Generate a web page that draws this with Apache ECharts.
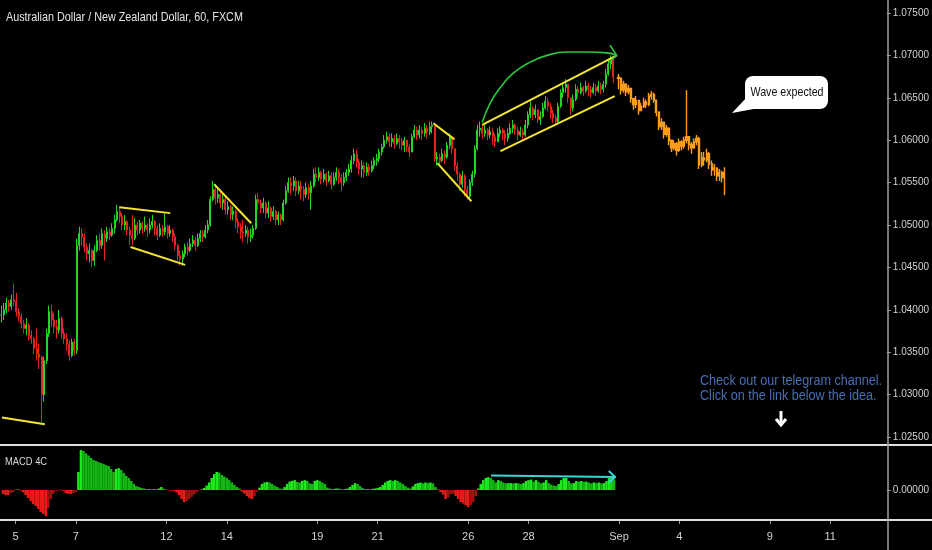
<!DOCTYPE html>
<html><head><meta charset="utf-8">
<script src="https://cdn.jsdelivr.net/npm/echarts@6/dist/echarts.min.js"></script>
<style>html,body{margin:0;padding:0;background:#000;}#c{width:932px;height:550px;}</style>
</head><body><div id="c"></div>
<script>
// ---- data (2-hour slots; slot 5 = Aug 5 00:00) ----
const closes=[
1.0394,1.0400,1.0408,1.0404,1.0412,1.0410,1.0398,1.0392,1.0384,1.0378,
1.0382,1.0370,1.0366,1.0354,1.0348,1.0344,1.0300,1.0340,1.0372,1.0398,
1.0388,1.0380,1.0376,1.0390,1.0372,1.0366,1.0360,1.0346,1.0362,1.0352,
1.0476,1.0490,1.0486,1.0474,1.0466,1.0470,1.0458,1.0470,1.0482,1.0476,
1.0490,1.0484,1.0492,1.0488,1.0496,1.0506,1.0516,1.0510,1.0500,1.0504,
1.0494,1.0488,1.0484,1.0500,1.0494,1.0502,1.0496,1.0500,1.0494,1.0500,
1.0504,1.0496,1.0488,1.0496,1.0492,1.0498,1.0490,1.0494,1.0486,1.0476,
1.0464,1.0460,1.0466,1.0474,1.0470,1.0478,1.0482,1.0476,1.0484,1.0490,
1.0486,1.0494,1.0500,1.0530,1.0542,1.0532,1.0536,1.0526,1.0530,1.0518,
1.0522,1.0512,1.0516,1.0504,1.0498,1.0492,1.0490,1.0494,1.0486,1.0488,
1.0496,1.0530,1.0526,1.0520,1.0526,1.0514,1.0520,1.0510,1.0516,1.0506,
1.0512,1.0506,1.0526,1.0540,1.0550,1.0546,1.0552,1.0540,1.0546,1.0542,
1.0536,1.0544,1.0538,1.0546,1.0560,1.0556,1.0562,1.0554,1.0560,1.0552,
1.0558,1.0548,1.0556,1.0562,1.0556,1.0550,1.0556,1.0562,1.0566,1.0576,
1.0584,1.0574,1.0566,1.0570,1.0562,1.0568,1.0564,1.0570,1.0576,1.0578,
1.0586,1.0592,1.0600,1.0604,1.0598,1.0602,1.0596,1.0602,1.0598,1.0594,
1.0600,1.0592,1.0586,1.0604,1.0612,1.0606,1.0612,1.0608,1.0614,1.0610,
1.0616,1.0618,1.0578,1.0580,1.0576,1.0584,1.0580,1.0594,1.0604,1.0590,
1.0570,1.0560,1.0548,1.0558,1.0542,1.0534,1.0550,1.0560,1.0590,1.0612,
1.0614,1.0608,1.0612,1.0606,1.0610,1.0604,1.0598,1.0608,1.0612,1.0608,
1.0602,1.0608,1.0614,1.0618,1.0612,1.0606,1.0610,1.0606,1.0618,1.0630,
1.0638,1.0630,1.0636,1.0624,1.0628,1.0638,1.0646,1.0640,1.0632,1.0626,
1.0622,1.0640,1.0656,1.0662,1.0666,1.0650,1.0638,1.0648,1.0660,1.0656,
1.0662,1.0658,1.0664,1.0660,1.0656,1.0662,1.0658,1.0664,1.0660,1.0666,
1.0678,1.0690,1.0694,1.0674];
const highs=[
1.0405,1.0408,1.0414,1.0412,1.0418,1.0431,1.0420,1.0402,1.0396,1.0388,
1.0390,1.0384,1.0376,1.0368,1.0378,1.0360,1.0346,1.0345,1.0378,1.0405,
1.0406,1.0396,1.0388,1.0400,1.0392,1.0378,1.0372,1.0364,1.0366,1.0366,
1.0484,1.0498,1.0496,1.0490,1.0478,1.0478,1.0472,1.0476,1.0488,1.0490,
1.0496,1.0494,1.0498,1.0496,1.0502,1.0512,1.0524,1.0522,1.0514,1.0512,
1.0506,1.0498,1.0512,1.0508,1.0504,1.0506,1.0504,1.0510,1.0502,1.0508,
1.0512,1.0506,1.0500,1.0502,1.0500,1.0514,1.0500,1.0500,1.0496,1.0490,
1.0478,1.0470,1.0470,1.0478,1.0480,1.0484,1.0488,1.0486,1.0490,1.0494,
1.0494,1.0500,1.0506,1.0534,1.0552,1.0546,1.0542,1.0538,1.0536,1.0532,
1.0528,1.0524,1.0522,1.0518,1.0508,1.0502,1.0506,1.0500,1.0498,1.0496,
1.0500,1.0536,1.0538,1.0530,1.0532,1.0528,1.0528,1.0522,1.0522,1.0518,
1.0516,1.0514,1.0530,1.0546,1.0556,1.0556,1.0558,1.0556,1.0552,1.0552,
1.0546,1.0550,1.0548,1.0552,1.0566,1.0568,1.0568,1.0564,1.0566,1.0562,
1.0564,1.0562,1.0562,1.0568,1.0566,1.0560,1.0562,1.0566,1.0572,1.0582,
1.0590,1.0588,1.0578,1.0576,1.0574,1.0574,1.0572,1.0576,1.0580,1.0584,
1.0590,1.0596,1.0606,1.0610,1.0608,1.0608,1.0606,1.0608,1.0606,1.0602,
1.0604,1.0598,1.0596,1.0608,1.0618,1.0616,1.0618,1.0616,1.0620,1.0618,
1.0622,1.0622,1.0620,1.0586,1.0584,1.0590,1.0588,1.0598,1.0608,1.0604,
1.0590,1.0574,1.0562,1.0564,1.0560,1.0546,1.0554,1.0564,1.0594,1.0618,
1.0622,1.0618,1.0618,1.0614,1.0616,1.0614,1.0608,1.0614,1.0616,1.0614,
1.0612,1.0614,1.0620,1.0624,1.0620,1.0616,1.0616,1.0614,1.0624,1.0634,
1.0646,1.0640,1.0642,1.0636,1.0634,1.0644,1.0652,1.0650,1.0644,1.0636,
1.0630,1.0644,1.0660,1.0668,1.0672,1.0666,1.0650,1.0654,1.0666,1.0664,
1.0668,1.0664,1.0670,1.0668,1.0664,1.0668,1.0666,1.0670,1.0668,1.0670,
1.0684,1.0696,1.0700,1.0698];
const lows=[
1.0385,1.0388,1.0396,1.0398,1.0400,1.0404,1.0392,1.0386,1.0378,1.0372,
1.0370,1.0364,1.0360,1.0348,1.0340,1.0330,1.0267,1.0292,1.0336,1.0368,
1.0380,1.0372,1.0366,1.0372,1.0366,1.0360,1.0352,1.0340,1.0344,1.0346,
1.0348,1.0470,1.0476,1.0468,1.0458,1.0456,1.0450,1.0452,1.0468,1.0470,
1.0472,1.0458,1.0480,1.0482,1.0486,1.0490,1.0504,1.0502,1.0494,1.0494,
1.0488,1.0476,1.0476,1.0482,1.0488,1.0490,1.0490,1.0492,1.0486,1.0490,
1.0496,1.0488,1.0482,1.0486,1.0486,1.0488,1.0484,1.0486,1.0480,1.0470,
1.0458,1.0452,1.0452,1.0462,1.0464,1.0468,1.0474,1.0470,1.0474,1.0480,
1.0480,1.0484,1.0490,1.0498,1.0528,1.0524,1.0526,1.0520,1.0518,1.0512,
1.0512,1.0506,1.0506,1.0496,1.0490,1.0484,1.0480,1.0486,1.0478,1.0480,
1.0484,1.0494,1.0518,1.0514,1.0514,1.0508,1.0508,1.0504,1.0506,1.0500,
1.0500,1.0500,1.0504,1.0524,1.0538,1.0536,1.0540,1.0534,1.0536,1.0530,
1.0528,1.0532,1.0530,1.0518,1.0544,1.0550,1.0552,1.0548,1.0550,1.0546,
1.0550,1.0542,1.0546,1.0552,1.0548,1.0540,1.0546,1.0552,1.0558,1.0562,
1.0572,1.0568,1.0560,1.0556,1.0556,1.0558,1.0558,1.0562,1.0566,1.0570,
1.0574,1.0582,1.0590,1.0596,1.0592,1.0592,1.0590,1.0594,1.0590,1.0588,
1.0586,1.0586,1.0580,1.0586,1.0602,1.0600,1.0602,1.0600,1.0604,1.0602,
1.0606,1.0608,1.0574,1.0570,1.0570,1.0574,1.0572,1.0578,1.0590,1.0584,
1.0564,1.0552,1.0540,1.0544,1.0534,1.0530,1.0532,1.0546,1.0556,1.0588,
1.0604,1.0602,1.0604,1.0600,1.0602,1.0594,1.0592,1.0598,1.0604,1.0600,
1.0594,1.0598,1.0606,1.0608,1.0606,1.0600,1.0604,1.0600,1.0604,1.0614,
1.0626,1.0624,1.0626,1.0620,1.0618,1.0626,1.0636,1.0634,1.0626,1.0620,
1.0618,1.0620,1.0638,1.0650,1.0656,1.0644,1.0630,1.0634,1.0646,1.0650,
1.0654,1.0652,1.0656,1.0652,1.0650,1.0654,1.0652,1.0656,1.0654,1.0656,
1.0662,1.0676,1.0684,1.0668];
// projected path (orange), starting at slot 245
const projStart=245;
const projClose=[
1.0673,1.0659,1.0666,1.0657,1.0661,1.0649,1.0642,1.0647,1.0635,1.0640,
1.0645,1.0642,1.0652,1.0654,1.0647,1.0633,1.0616,1.0621,1.0607,1.0614,
1.0600,1.0591,1.0596,1.0588,1.0598,1.0593,1.0600,1.0604,1.0595,1.0591,
1.0598,1.0602,1.0571,1.0579,1.0577,1.0584,1.0572,1.0565,1.0567,1.0558,
1.0562,1.0556,1.0562];
const projHigh=[
1.0678,1.0668,1.0670,1.0664,1.0665,1.0658,1.0650,1.0652,1.0645,1.0644,
1.0650,1.0648,1.0656,1.0658,1.0656,1.0648,1.0634,1.0626,1.0622,1.0618,
1.0614,1.0600,1.0600,1.0598,1.0602,1.0600,1.0604,1.0659,1.0604,1.0598,
1.0602,1.0606,1.0604,1.0586,1.0586,1.0590,1.0586,1.0576,1.0572,1.0568,
1.0566,1.0564,1.0568];
const projLow=[
1.0660,1.0654,1.0656,1.0652,1.0654,1.0644,1.0636,1.0638,1.0630,1.0634,
1.0638,1.0638,1.0640,1.0648,1.0644,1.0628,1.0612,1.0612,1.0602,1.0604,
1.0594,1.0586,1.0588,1.0582,1.0586,1.0588,1.0590,1.0596,1.0588,1.0584,
1.0590,1.0594,1.0566,1.0568,1.0570,1.0574,1.0566,1.0558,1.0558,1.0552,
1.0552,1.0550,1.0535];
const macd=[
-0.00013,-0.00017,-0.00017,-0.0001,-0.00007,0.00001,0.00002,-0.00002,-0.00008,-0.00017,
-0.00027,-0.00037,-0.00047,-0.00053,-0.00063,-0.00073,-0.0008,-0.00087,-0.0006,-0.0003,
-0.00013,-0.00003,-0.00002,0.00001,-0.00003,-0.0001,-0.00013,-0.00013,-0.0001,-0.00007,
0.0006,0.00133,0.0013,0.00122,0.00115,0.00107,0.001,0.00097,0.00093,0.0009,
0.00087,0.00083,0.0008,0.0007,0.0006,0.0007,0.00073,0.00067,0.00057,0.00047,
0.0004,0.0003,0.0002,0.00013,0.0001,0.00007,0.00005,0.00003,0.00003,0.00002,
0.00003,0.00002,0.00005,0.0001,0.00004,0.00001,-0.00001,-0.00002,-0.00003,-0.00008,
-0.00017,-0.0003,-0.0004,-0.00037,-0.0003,-0.00023,-0.00015,-0.00008,-0.00002,0.00002,
0.00007,0.00015,0.00025,0.0004,0.00053,0.0006,0.00058,0.0005,0.00045,0.0004,
0.00033,0.00025,0.00017,0.0001,0.00005,-0.00005,-0.00012,-0.0002,-0.00027,-0.0003,
-0.0002,-0.00005,0.00008,0.0002,0.00025,0.00027,0.00025,0.0002,0.00015,0.0001,
0.00005,0.00004,0.0001,0.0002,0.00028,0.0003,0.00033,0.00027,0.00025,0.0003,
0.00033,0.0003,0.00022,0.0002,0.0003,0.00033,0.0003,0.00025,0.0002,0.00008,
0.00005,0.00003,0.00004,0.00005,0.00004,0.00002,0.00003,0.00005,0.0001,0.00017,
0.00023,0.0002,0.00013,0.00007,0.00003,0.00003,0.00002,0.00004,0.00005,0.00007,
0.0001,0.00017,0.00025,0.0003,0.00033,0.0003,0.00033,0.0003,0.00025,0.0002,
0.00013,0.00008,0.00005,0.00012,0.0002,0.00023,0.00025,0.00022,0.00025,0.00023,
0.00025,0.00022,0.0001,0.00002,-0.00007,-0.00015,-0.0003,-0.00025,-0.00015,-0.00012,
-0.0002,-0.0003,-0.0004,-0.00045,-0.0005,-0.00057,-0.0005,-0.0004,-0.0002,0.00005,
0.0002,0.00033,0.0004,0.00043,0.0004,0.00033,0.00025,0.00033,0.0003,0.00025,
0.00022,0.00023,0.00023,0.00022,0.00023,0.00022,0.0002,0.00023,0.0003,0.00033,
0.00035,0.00028,0.00033,0.00027,0.00022,0.00025,0.00033,0.00023,0.00018,0.00015,
0.00013,0.0002,0.00033,0.0004,0.0004,0.0003,0.00022,0.00023,0.0003,0.00028,
0.0003,0.00027,0.00028,0.00025,0.00022,0.00025,0.00023,0.00025,0.00022,0.00023,
0.0003,0.0004,0.00043,0.00035];
const priceTicks=[1.025,1.030,1.035,1.040,1.045,1.050,1.055,1.060,1.065,1.070,1.075];
const macdTicks=[0];
const dayLabels={5:'5',29:'7',65:'12',89:'14',125:'19',149:'21',185:'26',209:'28',245:'Sep',269:'4',305:'9',329:'11'};
// drawings (x in slot units, y in price / MACD units)
const yellowLines=[
 [[0.75,1.0273],[17.8,1.0265]],
 [[47.4,1.0521],[67.6,1.0514]],
 [[51.8,1.0474],[73.5,1.0453]],
 [[85.0,1.0548],[99.7,1.0502]],
 [[172.0,1.0620],[180.4,1.0601]],
 [[173.6,1.0573],[187.1,1.0528]],
 [[191.4,1.0618],[244.8,1.0700]],
 [[198.6,1.0587],[244.0,1.0652]]
];
const greenArc=[[191.4,1.0621],[194.6,1.0644],[198.6,1.0662],[203.7,1.0679],[210.4,1.0692],[217.1,1.0700],[225.1,1.0704],[233.0,1.0704],[240.9,1.0703],[244.8,1.0700]];
const greenHead=[[242.1,1.0712],[244.8,1.0700],[241.7,1.0692]];
const cyanArrow=[[194.6,0.00048],[244.0,0.00043]];
const cyanHead=[[241.4,0.00063],[244.0,0.00043],[241.4,0.00025]];

// ---- build ----
const N=352;
const FONT='"Liberation Sans", Arial, sans-serif';
const cats=Array.from({length:N},(_,i)=>dayLabels[i]||'');
const candleData=closes.map((c,i)=>{const o=i?closes[i-1]:c;return [i,o,c,Math.min(lows[i],o,c),Math.max(highs[i],o,c)];});
const projData=projClose.map((c,j)=>{const o=j?projClose[j-1]:closes[closes.length-1];return [projStart+j,o,c,Math.min(projLow[j],o,c),Math.max(projHigh[j],o,c)];});
const UP='#24d624', DN='#e3241f';
const seg=(data,color,w,xi,yi,smooth)=>({type:'line',xAxisIndex:xi,yAxisIndex:yi,data:data,symbol:'none',smooth:!!smooth,silent:true,z:5,lineStyle:{color:color,width:w},animation:false});

const chart=echarts.init(document.getElementById('c'),null,{renderer:'canvas'});
const series=[
 {type:'candlestick',xAxisIndex:0,yAxisIndex:0,data:candleData,encode:{x:0,y:[1,2,3,4]},barWidth:1.5,
  itemStyle:{color:UP,color0:DN,borderColor:UP,borderColor0:DN,borderWidth:1}},
 {type:'candlestick',xAxisIndex:0,yAxisIndex:0,data:projData,encode:{x:0,y:[1,2,3,4]},barWidth:1.8,
  itemStyle:{color:'#ff9c1a',color0:'#ff9c1a',borderColor:'#ff9c1a',borderColor0:'#ff9c1a',borderWidth:1.4}},
 {type:'bar',xAxisIndex:1,yAxisIndex:1,data:macd,barWidth:'100%',barCategoryGap:'0%',
  itemStyle:{color:p=>{const v=p.value,pv=p.dataIndex?macd[p.dataIndex-1]:v;
    if(v>=0) return v>=pv?'#1ee81e':'#14b814'; return v<=pv?'#ee1a1a':'#a80f0f';}}}
];
yellowLines.forEach(s=>series.push(seg(s,'#f4e531',2,2,0)));
series.push(seg(greenArc,'#27c93f',1.6,2,0,0.5));
series.push(seg(greenHead,'#27c93f',1.6,2,0));
series.push(seg(cyanArrow,'#38d6d6',2,3,1));
series.push(seg(cyanHead,'#38d6d6',2,3,1));

const noLine={show:false,onZero:false};
chart.setOption({
 backgroundColor:'#000',
 animation:false,
 grid:[{left:-1.9,right:44.1,top:0,height:445},{left:-1.9,right:44.1,top:445,height:75}],
 xAxis:[
  {type:'category',gridIndex:0,data:cats,show:false,axisLine:noLine},
  {type:'category',gridIndex:1,data:cats,position:'bottom',axisLine:noLine,
   axisTick:{show:true,alignWithLabel:true,interval:(i,v)=>v!=='',length:4,lineStyle:{color:'#9a9a9a'}},
   axisLabel:{interval:0,color:'#d2d2d2',fontSize:11,fontFamily:FONT,margin:11},splitLine:{show:false}},
  {type:'value',gridIndex:0,min:0,max:N,show:false,axisLine:noLine},
  {type:'value',gridIndex:1,min:0,max:N,show:false,axisLine:noLine}
 ],
 yAxis:[
  {type:'value',gridIndex:0,position:'right',min:1.02406,max:1.07653,scale:true,
   axisLine:noLine,splitLine:{show:false},
   axisTick:{show:true,customValues:priceTicks,length:4,lineStyle:{color:'#9a9a9a'}},
   axisLabel:{customValues:priceTicks,formatter:v=>v.toFixed(5),color:'#d2d2d2',fontSize:10,fontFamily:FONT,margin:6}},
  {type:'value',gridIndex:1,position:'right',min:-0.001,max:0.0015,
   axisLine:noLine,splitLine:{show:false},
   axisTick:{show:true,customValues:macdTicks,length:4,lineStyle:{color:'#9a9a9a'}},
   axisLabel:{customValues:macdTicks,formatter:v=>v.toFixed(5),color:'#d2d2d2',fontSize:10,fontFamily:FONT,margin:6}}
 ],
 series:series,
 graphic:[
  {type:'line',z:50,shape:{x1:0,y1:445,x2:932,y2:445},style:{stroke:'#dedede',lineWidth:2}},
  {type:'line',z:50,shape:{x1:0,y1:520,x2:932,y2:520},style:{stroke:'#dedede',lineWidth:2}},
  {type:'line',z:50,shape:{x1:888,y1:0,x2:888,y2:550},style:{stroke:'#a0a0a0',lineWidth:1.5}},
  {type:'text',z:50,x:6,y:11,scaleX:0.83,style:{text:'Australian Dollar / New Zealand Dollar, 60, FXCM',fill:'#e4e4e4',font:'13px '+FONT}},
  {type:'text',z:50,x:5,y:456,scaleX:0.85,style:{text:'MACD 4C',fill:'#d8d8d8',font:'11px '+FONT}},
  {type:'text',z:50,x:700,y:374,scaleX:0.9,style:{text:'Check out our telegram channel.\nClick on the link below the idea.',fill:'#4a6db2',font:'14px '+FONT,lineHeight:15}},
  {type:'polyline',z:50,shape:{points:[[781,411],[781,425]]},style:{stroke:'#fff',lineWidth:3,fill:null}},
  {type:'polyline',z:50,shape:{points:[[776,419],[781,425],[786,419]]},style:{stroke:'#fff',lineWidth:3,fill:null}},
  {type:'polygon',z:50,shape:{points:[[748,96],[732,113],[759,108]]},style:{fill:'#fff'}},
  {type:'rect',z:51,shape:{x:745,y:76,width:83,height:33,r:8},style:{fill:'#fff'}},
  {type:'text',z:52,x:787,y:92,scaleX:0.82,style:{text:'Wave expected',fill:'#111',font:'13px '+FONT,textAlign:'center',textVerticalAlign:'middle'}}
 ]
});
</script>
</body></html>
